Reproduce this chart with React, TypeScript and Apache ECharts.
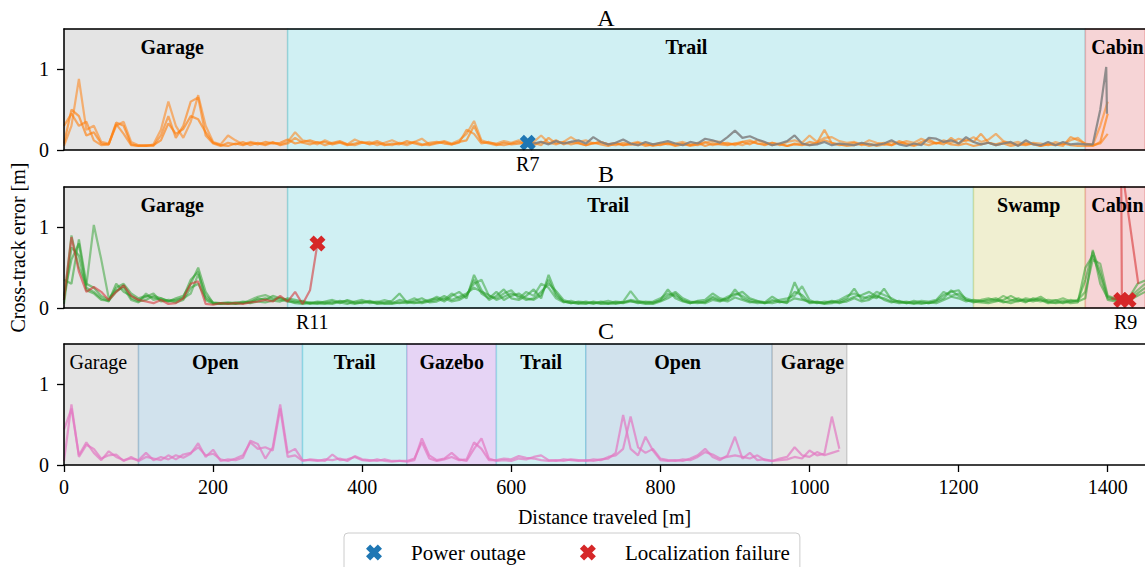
import React, { useEffect, useRef } from "react";
import * as echarts from "echarts";

// ---- sampling / extents ----
const STEP = 10; // metres between samples
const XMAX = 1450;
const X_TICKS = [0, 200, 400, 600, 800, 1000, 1200, 1400];
const Y_TICKS = [0, 1];

// ---- Panel A: orange runs (0..1400 m), gray run resumed after outage ----
const A_RUN1 = [
  0.08, 0.5, 0.42, 0.18, 0.22, 0.08, 0.07, 0.34, 0.3, 0.07,
  0.05, 0.05, 0.06, 0.12, 0.33, 0.2, 0.26, 0.42, 0.38, 0.22,
  0.09, 0.06, 0.05, 0.08, 0.06, 0.09, 0.07, 0.1, 0.08, 0.09,
  0.13, 0.08, 0.1, 0.12, 0.09, 0.1, 0.07, 0.09, 0.06, 0.08,
  0.1, 0.07, 0.09, 0.06, 0.08, 0.07, 0.11, 0.08, 0.06, 0.09,
  0.1, 0.08, 0.07, 0.1, 0.12, 0.3, 0.1, 0.08, 0.06, 0.09,
  0.07, 0.08, 0.09, 0.06, 0.1, 0.08, 0.12, 0.07, 0.1, 0.08,
  0.06, 0.09, 0.07, 0.05, 0.08, 0.06, 0.07, 0.09, 0.05, 0.07,
  0.06, 0.08, 0.05, 0.07, 0.06, 0.09, 0.05, 0.08, 0.07, 0.06,
  0.08, 0.1, 0.07, 0.12, 0.09, 0.06, 0.08, 0.05, 0.07, 0.06,
  0.1, 0.08, 0.12, 0.09, 0.07, 0.05, 0.06, 0.08, 0.05, 0.07,
  0.09, 0.06, 0.11, 0.08, 0.06, 0.1, 0.13, 0.08, 0.1, 0.07,
  0.06, 0.08, 0.05, 0.07, 0.09, 0.06, 0.08, 0.05, 0.07, 0.06,
  0.08, 0.05, 0.07, 0.06, 0.08, 0.06, 0.05, 0.05, 0.05, 0.1,
  0.45,
];
const A_RUN2 = [
  0.05, 0.3, 0.88, 0.25, 0.3, 0.1, 0.08, 0.3, 0.35, 0.1,
  0.06, 0.05, 0.07, 0.25, 0.6, 0.3, 0.15, 0.35, 0.68, 0.3,
  0.1, 0.07, 0.18, 0.12, 0.07, 0.1, 0.08, 0.06, 0.09, 0.07,
  0.1, 0.22, 0.12, 0.1, 0.07, 0.12, 0.08, 0.1, 0.07, 0.13,
  0.09, 0.1, 0.06, 0.09, 0.12, 0.08, 0.06, 0.1, 0.14, 0.07,
  0.09, 0.11, 0.08, 0.12, 0.2, 0.36, 0.12, 0.09, 0.08, 0.11,
  0.09, 0.12, 0.08, 0.1, 0.18, 0.09, 0.07, 0.1, 0.16, 0.1,
  0.12, 0.08, 0.1, 0.07, 0.09, 0.06, 0.08, 0.1, 0.07, 0.06,
  0.09, 0.07, 0.08, 0.1, 0.07, 0.06, 0.09, 0.11, 0.1, 0.07,
  0.08, 0.06, 0.1, 0.08, 0.07, 0.09, 0.06, 0.1, 0.12, 0.09,
  0.18, 0.1, 0.15, 0.16, 0.11, 0.09, 0.1, 0.07, 0.12, 0.09,
  0.07, 0.1, 0.08, 0.11, 0.09, 0.14, 0.1, 0.08, 0.12, 0.09,
  0.14, 0.11, 0.16, 0.1, 0.13, 0.2, 0.11, 0.08, 0.1, 0.07,
  0.09, 0.08, 0.06, 0.1, 0.07, 0.12, 0.15, 0.07, 0.06, 0.3,
  0.6,
];
const A_RUN3 = [
  0.3, 0.45, 0.3, 0.35, 0.12, 0.06, 0.07, 0.32, 0.2, 0.06,
  0.05, 0.06, 0.05, 0.18, 0.42, 0.15, 0.3, 0.6, 0.65, 0.18,
  0.08, 0.05, 0.09, 0.07, 0.1, 0.06, 0.09, 0.07, 0.1, 0.06,
  0.08, 0.15, 0.09, 0.07, 0.1, 0.06, 0.09, 0.11, 0.07, 0.06,
  0.09, 0.08, 0.11, 0.07, 0.06, 0.09, 0.08, 0.1, 0.07, 0.06,
  0.08, 0.1, 0.07, 0.09, 0.25, 0.2, 0.08, 0.1, 0.07, 0.06,
  0.08, 0.1, 0.07, 0.09, 0.06, 0.15, 0.08, 0.1, 0.07, 0.09,
  0.06, 0.08, 0.1, 0.07, 0.06, 0.09, 0.07, 0.06, 0.08, 0.05,
  0.07, 0.09, 0.06, 0.08, 0.05, 0.07, 0.1, 0.06, 0.08, 0.09,
  0.06, 0.1, 0.12, 0.08, 0.06, 0.09, 0.07, 0.05, 0.08, 0.07,
  0.06, 0.09, 0.25, 0.08, 0.06, 0.07, 0.09, 0.06, 0.08, 0.05,
  0.07, 0.06, 0.09, 0.07, 0.05, 0.08, 0.06, 0.09, 0.07, 0.15,
  0.08, 0.13, 0.1, 0.2, 0.09, 0.07, 0.1, 0.08, 0.06, 0.09,
  0.07, 0.05, 0.08, 0.07, 0.05, 0.16, 0.12, 0.08, 0.06, 0.08,
  0.2,
];
const A_RESUMED_START = 620;
const A_RESUMED = [
  0.09, 0.08, 0.1, 0.07, 0.11, 0.08, 0.1, 0.12,
  0.08, 0.16, 0.1, 0.07, 0.09, 0.13, 0.08, 0.06, 0.1, 0.07,
  0.09, 0.11, 0.08, 0.06, 0.1, 0.08, 0.14, 0.12, 0.09, 0.16,
  0.24, 0.15, 0.17, 0.13, 0.1, 0.06, 0.08, 0.11, 0.18, 0.08,
  0.06, 0.07, 0.1, 0.06, 0.08, 0.07, 0.06, 0.09, 0.07, 0.06,
  0.08, 0.12, 0.07, 0.05, 0.08, 0.06, 0.15, 0.14, 0.1, 0.12,
  0.08, 0.16, 0.1, 0.07, 0.09, 0.06, 0.08, 0.1, 0.05, 0.12,
  0.07, 0.06, 0.1, 0.06, 0.1, 0.07, 0.08, 0.07, 0.07,
];
const A_RESUMED_END = [[1390, 0.5], [1398, 1.03], [1399, 0.45]];
const POWER_OUTAGE = [[622, 0.09]];
const POWER_OUTAGE_TAGS = [{ x: 622, text: "R7" }];

// ---- Panel B: green runs (0..1450 m), one run lost localization ----
const B_RUN1 = [
  0.35, 0.3, 0.85, 0.3, 0.25, 0.15, 0.1, 0.25, 0.3, 0.18,
  0.12, 0.15, 0.13, 0.1, 0.08, 0.12, 0.15, 0.3, 0.5, 0.2,
  0.06, 0.05, 0.06, 0.05, 0.06, 0.08, 0.1, 0.12, 0.1, 0.13,
  0.1, 0.08, 0.06, 0.07, 0.05, 0.06, 0.08, 0.06, 0.1, 0.07,
  0.06, 0.08, 0.05, 0.07, 0.09, 0.18, 0.07, 0.06, 0.08, 0.1,
  0.12, 0.08, 0.15, 0.2, 0.12, 0.41, 0.22, 0.1, 0.15, 0.23,
  0.12, 0.1, 0.15, 0.23, 0.12, 0.41, 0.18, 0.08, 0.06, 0.07,
  0.05, 0.08, 0.06, 0.05, 0.07, 0.06, 0.08, 0.07, 0.05, 0.06,
  0.1, 0.23, 0.12, 0.08, 0.06, 0.09, 0.1, 0.18, 0.12, 0.1,
  0.23, 0.12, 0.08, 0.06, 0.07, 0.14, 0.08, 0.06, 0.32, 0.12,
  0.06, 0.07, 0.05, 0.06, 0.08, 0.12, 0.24, 0.1, 0.15, 0.12,
  0.24, 0.1, 0.08, 0.06, 0.09, 0.07, 0.06, 0.08, 0.12, 0.22,
  0.15, 0.1, 0.07, 0.09, 0.08, 0.1, 0.07, 0.09, 0.12, 0.08,
  0.1, 0.14, 0.08, 0.06, 0.07, 0.1, 0.08, 0.12, 0.72, 0.3,
  0.12, 0.1, 0.12, 0.15, 0.3, 0.34,
];
const B_RUN2 = [
  0.1, 0.9, 0.5, 0.28, 1.03, 0.6, 0.12, 0.22, 0.25, 0.1,
  0.07, 0.18, 0.1, 0.12, 0.08, 0.1, 0.12, 0.18, 0.42, 0.15,
  0.07, 0.06, 0.05, 0.07, 0.06, 0.1, 0.14, 0.16, 0.12, 0.1,
  0.08, 0.07, 0.09, 0.06, 0.08, 0.07, 0.05, 0.08, 0.09, 0.06,
  0.08, 0.06, 0.07, 0.1, 0.07, 0.06, 0.08, 0.12, 0.07, 0.09,
  0.14, 0.1, 0.18, 0.12, 0.16, 0.3, 0.35, 0.15, 0.12, 0.18,
  0.22, 0.12, 0.2, 0.15, 0.3, 0.25, 0.12, 0.07, 0.09, 0.06,
  0.08, 0.06, 0.07, 0.09, 0.06, 0.08, 0.21, 0.09, 0.07, 0.08,
  0.12, 0.18, 0.15, 0.1, 0.07, 0.06, 0.08, 0.12, 0.09, 0.14,
  0.18, 0.15, 0.1, 0.08, 0.06, 0.08, 0.1, 0.12, 0.15, 0.27,
  0.1, 0.06, 0.08, 0.07, 0.1, 0.15, 0.18, 0.14, 0.12, 0.2,
  0.16, 0.12, 0.07, 0.08, 0.06, 0.09, 0.08, 0.1, 0.2, 0.15,
  0.18, 0.12, 0.09, 0.1, 0.12, 0.09, 0.15, 0.1, 0.08, 0.12,
  0.1, 0.08, 0.1, 0.09, 0.12, 0.08, 0.1, 0.2, 0.6, 0.55,
  0.15, 0.12, 0.1, 0.14, 0.22, 0.3,
];
const B_RUN3 = [
  0.15, 0.6, 0.8, 0.25, 0.2, 0.12, 0.08, 0.3, 0.2, 0.15,
  0.1, 0.14, 0.18, 0.08, 0.1, 0.09, 0.13, 0.35, 0.45, 0.1,
  0.05, 0.06, 0.07, 0.06, 0.08, 0.07, 0.12, 0.1, 0.15, 0.12,
  0.09, 0.06, 0.05, 0.06, 0.07, 0.05, 0.06, 0.09, 0.07, 0.05,
  0.07, 0.09, 0.06, 0.05, 0.06, 0.1, 0.08, 0.07, 0.06, 0.08,
  0.1, 0.15, 0.1, 0.14, 0.18, 0.25, 0.2, 0.16, 0.1, 0.14,
  0.18, 0.15, 0.1, 0.12, 0.2, 0.3, 0.21, 0.1, 0.07, 0.05,
  0.06, 0.07, 0.05, 0.06, 0.05, 0.07, 0.09, 0.06, 0.08, 0.07,
  0.09, 0.15, 0.2, 0.12, 0.08, 0.07, 0.06, 0.1, 0.08, 0.12,
  0.16, 0.2, 0.12, 0.09, 0.07, 0.06, 0.08, 0.07, 0.12, 0.1,
  0.08, 0.07, 0.06, 0.08, 0.06, 0.1, 0.14, 0.16, 0.2, 0.14,
  0.12, 0.08, 0.06, 0.07, 0.05, 0.07, 0.06, 0.09, 0.16, 0.2,
  0.22, 0.1, 0.08, 0.07, 0.06, 0.08, 0.1, 0.15, 0.1, 0.07,
  0.12, 0.1, 0.06, 0.07, 0.09, 0.06, 0.07, 0.5, 0.65, 0.4,
  0.1, 0.08, 0.09, 0.12, 0.18, 0.25,
];
const B_RUN4 = [
  0.05, 0.75, 0.65, 0.22, 0.18, 0.1, 0.09, 0.2, 0.28, 0.12,
  0.08, 0.1, 0.15, 0.12, 0.09, 0.07, 0.1, 0.25, 0.3, 0.12,
  0.06, 0.05, 0.06, 0.05, 0.07, 0.06, 0.08, 0.07, 0.09, 0.08,
  0.12, 0.1, 0.08, 0.05, 0.06, 0.08, 0.1, 0.07, 0.05, 0.08,
  0.1, 0.07, 0.08, 0.06, 0.05, 0.07, 0.06, 0.09, 0.12, 0.07,
  0.08, 0.12, 0.08, 0.1, 0.15, 0.35, 0.18, 0.12, 0.2, 0.1,
  0.15, 0.18, 0.12, 0.1, 0.16, 0.35, 0.15, 0.08, 0.06, 0.08,
  0.07, 0.05, 0.08, 0.06, 0.08, 0.07, 0.1, 0.08, 0.06, 0.05,
  0.08, 0.12, 0.18, 0.09, 0.06, 0.08, 0.07, 0.14, 0.1, 0.08,
  0.13, 0.1, 0.07, 0.08, 0.06, 0.1, 0.07, 0.09, 0.2, 0.16,
  0.07, 0.08, 0.06, 0.09, 0.07, 0.08, 0.12, 0.08, 0.1, 0.16,
  0.1, 0.07, 0.09, 0.06, 0.07, 0.05, 0.07, 0.06, 0.1, 0.14,
  0.12, 0.08, 0.1, 0.08, 0.1, 0.12, 0.08, 0.06, 0.09, 0.1,
  0.08, 0.11, 0.07, 0.1, 0.06, 0.08, 0.09, 0.35, 0.7, 0.45,
  0.14, 0.11, 0.1, 0.1, 0.15, 0.2,
];
const B_FAILED_RUN = [
  0.1, 0.88, 0.45, 0.2, 0.26, 0.2, 0.1, 0.2, 0.28, 0.15,
  0.1, 0.08, 0.06, 0.1, 0.05, 0.06, 0.12, 0.3, 0.33, 0.05,
  0.04, 0.06, 0.05, 0.06, 0.05, 0.07, 0.08, 0.1, 0.08, 0.15,
  0.08, 0.2, 0.05, 0.22, 0.8,
];
const B_FAILED_CABIN = [[1405, 0.12], [1419, 0.1], [1418, 1.8], [1441, 0.3]];
const LOCALIZATION_FAILURE = [[340, 0.8], [1418, 0.1], [1428, 0.1]];
const LOCALIZATION_FAILURE_TAGS = [
  { x: 333, text: "R11" },
  { x: 1424, text: "R9" },
];

// ---- Panel C: pink runs (0..1040 m) ----
const C_RUN1 = [
  0.44, 0.7, 0.12, 0.28, 0.15, 0.06, 0.17, 0.1, 0.06, 0.08,
  0.06, 0.15, 0.06, 0.1, 0.07, 0.12, 0.09, 0.14, 0.27, 0.1,
  0.19, 0.05, 0.07, 0.06, 0.09, 0.3, 0.26, 0.08, 0.22, 0.75,
  0.15, 0.2, 0.06, 0.06, 0.05, 0.07, 0.06, 0.08, 0.05, 0.11,
  0.07, 0.06, 0.05, 0.07, 0.05, 0.05, 0.04, 0.06, 0.33, 0.12,
  0.06, 0.08, 0.15, 0.07, 0.05, 0.2, 0.33, 0.08, 0.05, 0.06,
  0.05, 0.08, 0.07, 0.1, 0.12, 0.06, 0.05, 0.07, 0.06, 0.05,
  0.06, 0.05, 0.07, 0.08, 0.15, 0.62, 0.2, 0.12, 0.35, 0.18,
  0.06, 0.05, 0.06, 0.05, 0.08, 0.12, 0.2, 0.1, 0.06, 0.12,
  0.35, 0.08, 0.15, 0.06, 0.07, 0.05, 0.06, 0.07, 0.1, 0.08,
  0.18, 0.12, 0.14, 0.6, 0.2,
];
const C_RUN2 = [
  0.05, 0.75, 0.1, 0.25, 0.2, 0.08, 0.12, 0.13, 0.05, 0.1,
  0.05, 0.1, 0.08, 0.06, 0.12, 0.07, 0.13, 0.15, 0.22, 0.12,
  0.14, 0.07, 0.05, 0.08, 0.12, 0.28, 0.2, 0.22, 0.18, 0.7,
  0.1, 0.12, 0.05, 0.07, 0.06, 0.05, 0.13, 0.06, 0.07, 0.1,
  0.06, 0.05, 0.07, 0.05, 0.04, 0.05, 0.05, 0.08, 0.28, 0.08,
  0.05, 0.07, 0.1, 0.06, 0.07, 0.28, 0.2, 0.06, 0.06, 0.08,
  0.07, 0.11, 0.09, 0.08, 0.06, 0.05, 0.06, 0.05, 0.07, 0.06,
  0.05, 0.07, 0.06, 0.1, 0.12, 0.2, 0.6, 0.22, 0.15, 0.2,
  0.08, 0.06, 0.05, 0.07, 0.06, 0.1, 0.16, 0.13, 0.08, 0.1,
  0.12, 0.1, 0.08, 0.12, 0.06, 0.05, 0.08, 0.1, 0.22, 0.12,
  0.1, 0.16, 0.12, 0.15, 0.18,
];

// ---- terrain zones: [label, from, to] ----
const ZONES_A = [["Garage", 0, 300], ["Trail", 300, 1370], ["Cabin", 1370, 1450]];
const ZONES_B = [["Garage", 0, 300], ["Trail", 300, 1220], ["Swamp", 1220, 1370], ["Cabin", 1370, 1450]];
const ZONES_C = [
  ["Garage", 0, 100], ["Open", 100, 320], ["Trail", 320, 460], ["Gazebo", 460, 580],
  ["Trail", 580, 700], ["Open", 700, 950], ["Garage", 950, 1050],
];
// where each zone's name sits along the distance axis
const ZONE_LABEL_X_A = [145, 835, 1413];
const ZONE_LABEL_X_B = [145, 730, 1294, 1413];
const ZONE_LABEL_X_C = [46, 203, 390, 520, 640, 823, 1004];
const ZONE_LABEL_BOLD_C = [false, true, true, true, true, true, true];
const ZONE_LABEL_Y = 1.28;

const PANEL_TITLES = ["A", "B", "C"];

// ---- styles ----
const FONT = "'Liberation Serif', 'Times New Roman', Times, serif";
const ZONE_STYLE: Record<string, { fill: string; edge: string }> = {
  Garage: { fill: "#e4e4e4", edge: "rgba(127,127,127,0.3)" },
  Trail: { fill: "#d0f0f3", edge: "rgba(23,190,207,0.3)" },
  Cabin: { fill: "#f6d4d6", edge: "rgba(214,39,40,0.25)" },
  Swamp: { fill: "#f0efd1", edge: "rgba(188,189,34,0.3)" },
  Open: { fill: "#d1e2ed", edge: "rgba(31,119,180,0.25)" },
  Gazebo: { fill: "#e6d4f5", edge: "rgba(148,103,189,0.3)" },
};
const ORANGE = "#ff7f0e";
const GRAY = "#7f7f7f";
const GREEN = "#2ca02c";
const RED = "#d62728";
const BLUE = "#1f77b4";
const PINK = "#e377c2";
// filled "X" marker
const X_MARK =
  "path://M0,2.6L2.6,0L5,2.4L7.4,0L10,2.6L7.6,5L10,7.4L7.4,10L5,7.6L2.6,10L0,7.4L2.4,5Z";

const GRIDS = [
  { left: 64, top: 29, width: 1086, height: 121 },
  { left: 64, top: 187, width: 1086, height: 121 },
  { left: 64, top: 344, width: 1086, height: 121 },
];
const TITLE_Y = [18, 174, 331];

const toPoints = (vals: number[], start = 0) => vals.map((v, i) => [start + i * STEP, v]);

function runLine(points: number[][], panel: number, color: string, opacity: number) {
  return {
    type: "line",
    xAxisIndex: panel,
    yAxisIndex: panel,
    data: points,
    symbol: "none",
    showSymbol: false,
    silent: true,
    z: 3,
    lineStyle: { color, width: 2.2, opacity },
    itemStyle: { color },
  };
}

function zoneSeries(zones: any[], panel: number) {
  return {
    type: "line",
    xAxisIndex: panel,
    yAxisIndex: panel,
    data: [],
    silent: true,
    z: 1,
    markArea: {
      silent: true,
      data: zones.map(([name, from, to]) => [
        {
          xAxis: from,
          itemStyle: {
            color: ZONE_STYLE[name].fill,
            borderColor: ZONE_STYLE[name].edge,
            borderWidth: 1.5,
          },
        },
        { xAxis: to },
      ]),
    },
  };
}

function zoneLabels(zones: any[], xs: number[], panel: number, bold?: boolean[]) {
  return {
    type: "scatter",
    xAxisIndex: panel,
    yAxisIndex: panel,
    silent: true,
    symbolSize: 1,
    z: 6,
    itemStyle: { color: "rgba(0,0,0,0)", opacity: 1 },
    data: zones.map(([name], i) => ({
      name,
      value: [xs[i], ZONE_LABEL_Y],
      label: { fontWeight: bold && !bold[i] ? "normal" : "bold" },
    })),
    label: {
      show: true,
      position: "inside",
      formatter: "{b}",
      color: "#000",
      opacity: 1,
      fontSize: 20,
      fontFamily: FONT,
    },
  };
}

function tagLabels(tags: { x: number; text: string }[], panel: number) {
  return {
    type: "scatter",
    xAxisIndex: panel,
    yAxisIndex: panel,
    silent: true,
    clip: false,
    symbolSize: 1,
    z: 6,
    itemStyle: { color: "rgba(0,0,0,0)", opacity: 1 },
    data: tags.map((t) => ({ name: t.text, value: [t.x, 0] })),
    label: {
      show: true,
      position: "bottom",
      distance: 3,
      formatter: "{b}",
      color: "#000",
      opacity: 1,
      fontSize: 20,
      fontFamily: FONT,
    },
  };
}

function eventMarks(name: string, points: number[][], panel: number, color: string) {
  return {
    name,
    type: "scatter",
    xAxisIndex: panel,
    yAxisIndex: panel,
    silent: true,
    clip: false,
    symbol: X_MARK,
    symbolSize: 16,
    z: 8,
    itemStyle: { color, opacity: 1 },
    data: points,
  };
}

export default function App() {
  const ref = useRef<HTMLDivElement>(null);

  useEffect(() => {
    if (!ref.current) return;
    const chart = echarts.init(ref.current, null, { renderer: "svg" });

    const axisLine = { show: true, onZero: false, lineStyle: { color: "#000", width: 1.5 } };
    const xAxes: any[] = [];
    GRIDS.forEach((_, i) => {
      const last = i === GRIDS.length - 1;
      xAxes.push({
        gridIndex: i,
        type: "value",
        min: 0,
        max: XMAX,
        position: "bottom",
        z: 10,
        axisLine,
        splitLine: { show: false },
        axisTick: {
          show: last,
          length: 7,
          customValues: X_TICKS,
          lineStyle: { color: "#000", width: 1.3 },
        },
        axisLabel: {
          show: last,
          customValues: X_TICKS,
          formatter: (v: number) => String(v),
          margin: 12,
          color: "#000",
          fontSize: 20,
          fontFamily: FONT,
        },
        name: last ? "Distance traveled [m]" : "",
        nameLocation: "middle",
        nameGap: 42,
        nameTextStyle: { color: "#000", fontSize: 20, fontFamily: FONT },
      });
    });
    // top spines
    GRIDS.forEach((_, i) => {
      xAxes.push({
        gridIndex: i,
        type: "value",
        min: 0,
        max: XMAX,
        position: "top",
        z: 10,
        axisLine,
        splitLine: { show: false },
        axisTick: { show: false },
        axisLabel: { show: false },
      });
    });

    const yAxes = GRIDS.map((_, i) => ({
      gridIndex: i,
      type: "value",
      min: 0,
      max: 1.5,
      z: 10,
      axisLine,
      splitLine: { show: false },
      axisTick: {
        show: true,
        length: 7,
        customValues: Y_TICKS,
        lineStyle: { color: "#000", width: 1.3 },
      },
      axisLabel: {
        customValues: Y_TICKS,
        formatter: (v: number) => String(v),
        margin: 15,
        color: "#000",
        fontSize: 20,
        fontFamily: FONT,
      },
      name: i === 1 ? "Cross-track error [m]" : "",
      nameLocation: "middle",
      nameRotate: 90,
      nameGap: 35,
      nameTextStyle: { color: "#000", fontSize: 20, fontFamily: FONT },
    }));

    const series: any[] = [
      // Panel A
      zoneSeries(ZONES_A, 0),
      runLine(toPoints(A_RUN1), 0, ORANGE, 0.65),
      runLine(toPoints(A_RUN2), 0, ORANGE, 0.55),
      runLine(toPoints(A_RUN3), 0, ORANGE, 0.6),
      runLine([...toPoints(A_RESUMED, A_RESUMED_START), ...A_RESUMED_END], 0, GRAY, 0.85),
      zoneLabels(ZONES_A, ZONE_LABEL_X_A, 0),
      eventMarks("Power outage", POWER_OUTAGE, 0, BLUE),
      tagLabels(POWER_OUTAGE_TAGS, 0),
      // Panel B
      zoneSeries(ZONES_B, 1),
      runLine(toPoints(B_RUN1), 1, GREEN, 0.55),
      runLine(toPoints(B_RUN2), 1, GREEN, 0.5),
      runLine(toPoints(B_RUN3), 1, GREEN, 0.55),
      runLine(toPoints(B_RUN4), 1, GREEN, 0.55),
      runLine(toPoints(B_FAILED_RUN), 1, RED, 0.55),
      runLine(B_FAILED_CABIN, 1, RED, 0.55),
      zoneLabels(ZONES_B, ZONE_LABEL_X_B, 1),
      eventMarks("Localization failure", LOCALIZATION_FAILURE, 1, RED),
      tagLabels(LOCALIZATION_FAILURE_TAGS, 1),
      // Panel C
      zoneSeries(ZONES_C, 2),
      runLine(toPoints(C_RUN1), 2, PINK, 0.7),
      runLine(toPoints(C_RUN2), 2, PINK, 0.7),
      zoneLabels(ZONES_C, ZONE_LABEL_X_C, 2, ZONE_LABEL_BOLD_C),
    ];

    const centerX = GRIDS[0].left + 542;
    chart.setOption({
      animation: false,
      textStyle: { fontFamily: FONT },
      grid: GRIDS.map((g) => ({ ...g, containLabel: false })),
      xAxis: xAxes,
      yAxis: yAxes,
      legend: {
        left: 344,
        top: 533,
        orient: "horizontal",
        padding: [9, 10, 12, 22],
        itemWidth: 16,
        itemHeight: 16,
        itemGap: 54,
        borderColor: "#cccccc",
        borderWidth: 1,
        borderRadius: 4,
        backgroundColor: "rgba(255,255,255,0.8)",
        selectedMode: false,
        textStyle: { fontSize: 21, fontFamily: FONT, color: "#000", padding: [0, 0, 0, 24] },
        data: [
          { name: "Power outage", icon: X_MARK },
          { name: "Localization failure", icon: X_MARK },
        ],
      },
      graphic: PANEL_TITLES.map((t, i) => ({
        type: "text",
        x: centerX,
        y: TITLE_Y[i],
        silent: true,
        style: {
          text: t,
          fill: "#000",
          fontSize: 24,
          fontFamily: FONT,
          align: "center",
          verticalAlign: "middle",
          textAlign: "center",
          textVerticalAlign: "middle",
        },
      })),
      series,
    });

    return () => chart.dispose();
  }, []);

  return (
    <div
      ref={ref}
      style={{ position: "fixed", left: 0, top: 0, width: 1145, height: 567, background: "#fff" }}
    />
  );
}
